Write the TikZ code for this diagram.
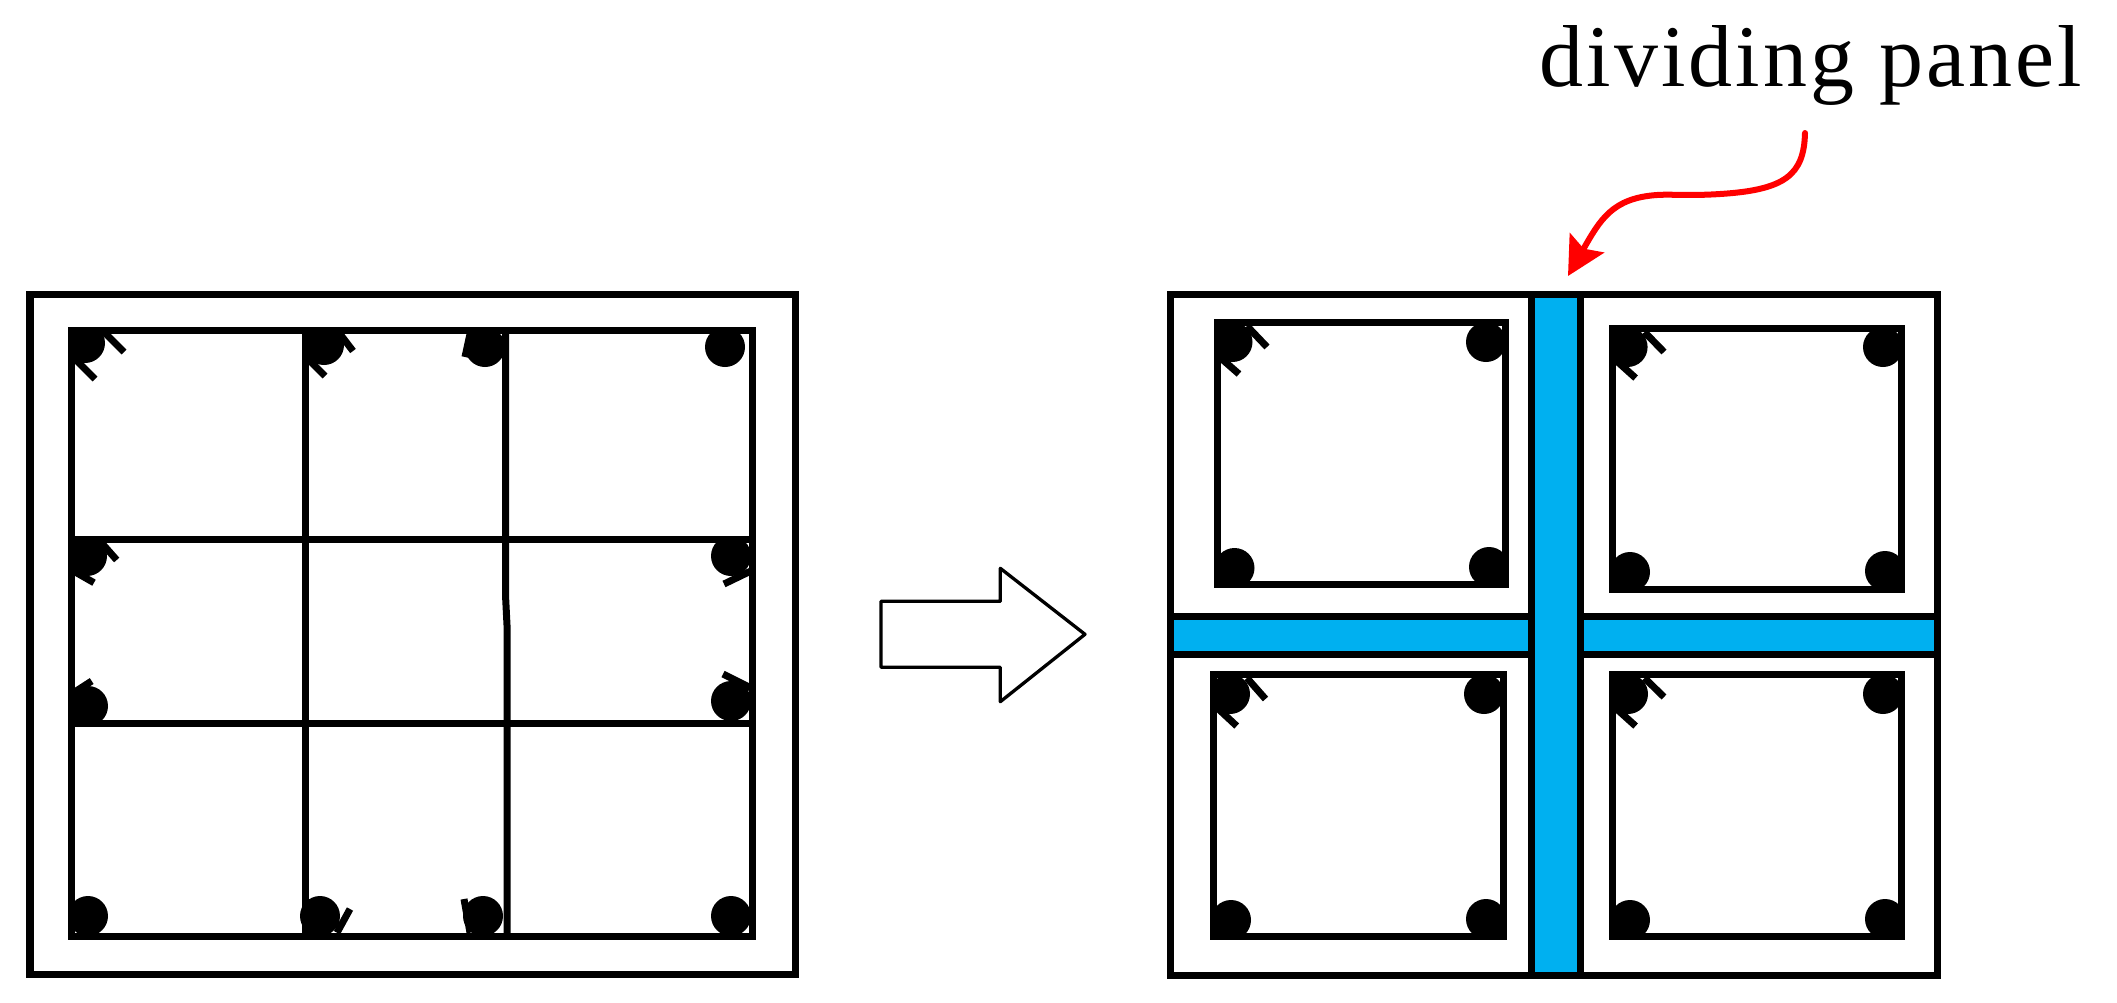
\documentclass[tikz,border=0pt]{standalone}
\usepackage{fontspec}
\setmainfont{Liberation Serif}
\usepackage{tikz}
\usetikzlibrary{arrows.meta}
\definecolor{panelblue}{HTML}{00B0F0}
\tikzstyle{wall} = [draw=black, line width=0.07cm]
\tikzstyle{hook} = [draw=black, line width=0.07cm]
\tikzstyle{panel} = [fill=panelblue]
\tikzstyle{flow} = [draw=black, line width=0.033cm, line join=round, fill=white]
\tikzstyle{pointer} = [red, line width=0.06cm, line cap=round, -{Stealth[length=0.38cm,width=0.39cm,inset=0.065cm]}]

\begin{document}
\begin{tikzpicture}[x=0.01cm,y=-0.01cm]
\useasboundingbox (0,0) rectangle (2117,1002);

% before
\draw [wall] (30,294.5) rectangle (795,974.5);
\begin{scope}
\clip (71.5,330.5) rectangle (752.5,936.5);
\foreach \x/\y in {85/343,324/345,485/347,725/347,87/556,731/556,88/706,731/701,88/916,320/916,483/916,731/916}
  \fill (\x,\y) circle [radius=20];
\foreach \xa/\ya/\xb/\yb in {102/330/124/352,70/354/95/379,340/334/353/351,305/356/325/376,470/334/465/357,101.7/543/116.7/560,70/569/94/582.7,70/695/91.7/681,755/569/724/584,755/690/723/674,337/932.7/350/909,470/932.7/464/899}
  \draw [hook] (\xa,\ya) -- (\xb,\yb);
\end{scope}
\draw [wall] (71.5,330.5) rectangle (752.5,936.5);
\draw [wall] (305.5,330.5) -- (305.5,936.5);
\draw [wall] (505.5,330.5) -- (505.5,595) -- (507,625) -- (507,936.5);
\draw [wall] (71.5,539.5) -- (752.5,539.5);
\draw [wall] (71.5,723) -- (752.5,723);

% block arrow
\draw [flow] (881,601.3) -- (1000.3,601.3) -- (1000.3,568.3) -- (1085,634.3) -- (1000.3,701.7) -- (1000.3,667.3) -- (881,667.3) -- cycle;

% after
\fill [panel] (1531.5,294.5) rectangle (1580.5,975);
\fill [panel] (1170.5,616) rectangle (1937.5,654.5);
\draw [wall] (1170.5,294.5) rectangle (1937.5,975);
\draw [wall] (1531.5,294.5) -- (1531.5,975);
\draw [wall] (1580.5,294.5) -- (1580.5,975);
\foreach \ya in {616,654.5} {
  \draw [wall] (1170.5,\ya) -- (1531.5,\ya);
  \draw [wall] (1580.5,\ya) -- (1937.5,\ya);
}
\begin{scope}
\clip (1217,322.5) rectangle (1505.5,584) (1612.5,328.5) rectangle (1901,589.5) (1213.7,674.6) rectangle (1503.5,936.5) (1612.5,674.6) rectangle (1901,936.5);
\foreach \x/\y in {1232.5/342,1486/342,1234.5/568,1489/567,1627.6/347,1883/347,1630/572,1885/571,1230/694,1484/694,1231/920,1486/919,1628/694,1883/694,1630/920,1885/919}
  \fill (\x,\y) circle [radius=20];
\foreach \xa/\ya/\xb/\yb in {1247/326/1267/347,1215/353/1239/374,1644.5/332/1664/352,1610/355/1635.6/378,1247/678/1265.5/699,1212/703/1236.7/726,1644.5/678/1664/697,1610/703/1635.6/726}
  \draw [hook] (\xa,\ya) -- (\xb,\yb);
\end{scope}
\draw [wall] (1217,322.5) rectangle (1505.5,584);
\draw [wall] (1612.5,328.5) rectangle (1901,589.5);
\draw [wall] (1213.7,674.6) rectangle (1503.5,936.5);
\draw [wall] (1612.5,674.6) rectangle (1901,936.5);

% label
\node (panellabel) [anchor=base, font=\fontsize{25}{29}\selectfont\addfontfeature{LetterSpace=3.5}] at (1811,86) {dividing panel};
\coordinate (tail) at (1805,133);
\coordinate (tip) at (1568,276);
\draw [pointer] (tail) .. controls (1804,175) and (1785,190) .. (1720,194) .. controls (1690,196) and (1670,194) .. (1657,195) .. controls (1612,198) and (1600,220) .. (tip);

\end{tikzpicture}
\end{document}
